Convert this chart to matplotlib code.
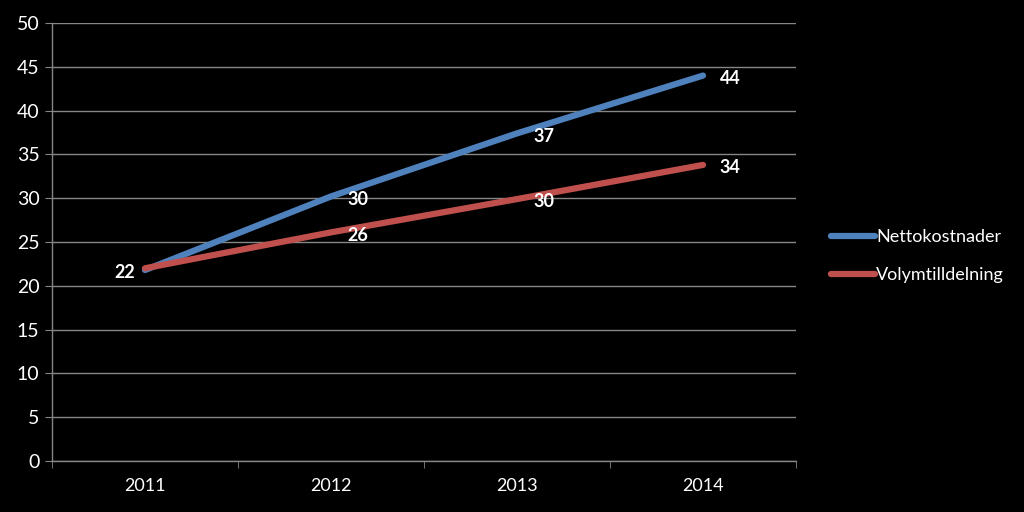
import matplotlib
matplotlib.use("Agg")
import matplotlib.pyplot as plt
import numpy as np

years = ["2011", "2012", "2013", "2014"]
netto = [21.8, 30.2, 37.4, 44.0]
volym = [22.0, 26.1, 29.9, 33.8]
netto_labels = ["22", "30", "37", "44"]
volym_labels = ["", "26", "30", "34"]

plt.rcParams['font.family'] = ['Lato', 'DejaVu Sans']

grid_col = '#868686'
blue = '#4F81BD'
red = '#C0504D'

fig = plt.figure(figsize=(10.24, 5.12), dpi=100, facecolor='black')
ax = fig.add_axes([52/1024, 51/512, 744/1024, 438/512], facecolor='black')

x = np.arange(len(years))
ax.plot(x, netto, color=blue, lw=4.5, solid_capstyle='round', label='Nettokostnader')
ax.plot(x, volym, color=red, lw=4.5, solid_capstyle='round', label='Volymtilldelning')

# data labels
for i, (v, t) in enumerate(zip(netto, netto_labels)):
    if i == 0:
        ax.annotate(t, (i, v), xytext=(-7, -2), textcoords='offset points',
                    ha='right', va='center', color='white', fontsize=13, fontweight='bold')
    else:
        ax.annotate(t, (i, v), xytext=(12, -2), textcoords='offset points',
                    ha='left', va='center', color='white', fontsize=13, fontweight='bold')
for i, (v, t) in enumerate(zip(volym, volym_labels)):
    if t:
        ax.annotate(t, (i, v), xytext=(12, -2), textcoords='offset points',
                    ha='left', va='center', color='white', fontsize=13, fontweight='bold')

ax.set_xlim(-0.5, 3.5)
ax.set_ylim(0, 50)
ax.set_yticks(range(0, 51, 5))
ax.set_xticks(x)
ax.set_xticklabels(years)
ax.set_xticks(np.arange(-0.5, 4, 1), minor=True)
ax.tick_params(axis='x', which='major', length=0, pad=12, colors='white', labelsize=13)
ax.tick_params(axis='x', which='minor', length=5, color=grid_col, direction='out')
ax.tick_params(axis='y', length=5, color=grid_col, colors='white', labelsize=14, pad=4)
ax.yaxis.grid(True, color=grid_col, lw=1)
ax.set_axisbelow(True)
for s in ['top', 'right']:
    ax.spines[s].set_visible(False)
for s in ['left', 'bottom']:
    ax.spines[s].set_color(grid_col)
    ax.spines[s].set_linewidth(1)

leg = fig.legend(loc='center left', bbox_to_anchor=(815/1024, 0.5), frameon=False,
                 fontsize=13, labelcolor='white', handlelength=2.4, handletextpad=0.1,
                 labelspacing=1.2)

fig.savefig('out.png', dpi=100, facecolor='black')
